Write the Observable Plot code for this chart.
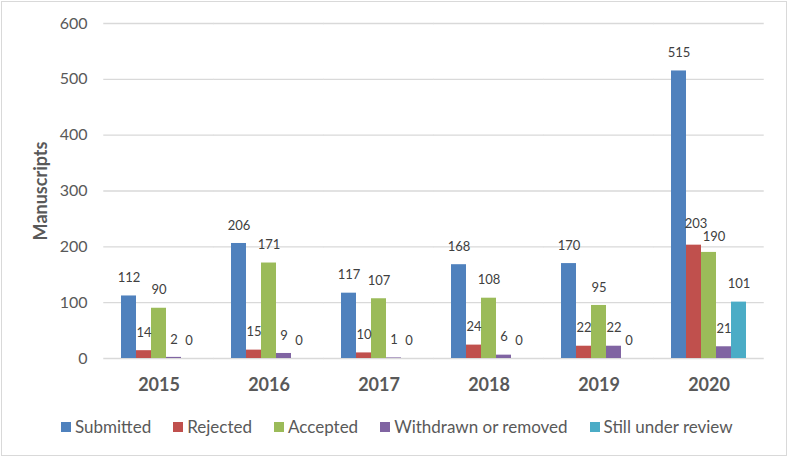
<!DOCTYPE html>
<html>
<head>
<meta charset="utf-8">
<script src="https://cdn.jsdelivr.net/npm/d3@7"></script>
<script src="https://cdn.jsdelivr.net/npm/@observablehq/plot@0.6"></script>
<style>
  html, body { margin: 0; padding: 0; background: #fff; }
  body { width: 788px; height: 457px; position: relative; overflow: hidden; font-family: Lato, "Open Sans", sans-serif; }
  #frame { position: absolute; left: 1px; top: 1px; width: 784px; height: 453px; border: 1px solid #d9d9d9; }
  #chart { position: absolute; left: 0; top: 0; }
  #chart svg { font-family: Lato, "Open Sans", sans-serif; }
  g[aria-label="y-axis tick label"] text { font-size: 16px; fill: #595959; }
  g[aria-label="fx-axis tick label"] text { font-size: 18px; font-weight: bold; fill: #595959; }
  g[aria-label="y-axis label"] text { font-size: 18px; font-weight: bold; fill: #595959; }
  #legend { position: absolute; left: 61px; top: 416px; display: flex; align-items: center; gap: 22px; font-size: 17px; color: #595959; white-space: nowrap; }
  .item { display: flex; align-items: center; gap: 4px; }
  .sw { width: 10px; height: 10px; display: inline-block; }
</style>
</head>
<body>
<div id="frame"></div>
<div id="chart"></div>
<div id="legend"></div>
<script>
const years = ["2015", "2016", "2017", "2018", "2019", "2020"];
const series = ["Submitted", "Rejected", "Accepted", "Withdrawn or removed", "Still under review"];
const colors = ["#4f81bd", "#c0504d", "#9bbb59", "#8064a2", "#4bacc6"];
const submitted = [112, 206, 117, 168, 170, 515];
const rejected = [14, 15, 10, 24, 22, 203];
const accepted = [90, 171, 107, 108, 95, 190];
const withdrawn = [2, 9, 1, 6, 22, 21];
const underReview = [0, 0, 0, 0, 0, 101];
const yTicks = [0, 100, 200, 300, 400, 500, 600];

const seriesValues = [submitted, rejected, accepted, withdrawn, underReview];
const data = years.flatMap((year, i) =>
  series.map((s, j) => ({year, series: s, value: seriesValues[j][i]}))
);

const width = 788, marginLeft = 102, marginRight = 23;
const pInner = 0.303, pOuter = pInner / 2;
const step = (width - marginLeft - marginRight) / (years.length - pInner + 2 * pOuter);
const halfGap = step * pInner / 2;

// labels that Excel nudged apart to avoid overlap (2020 Rejected / Accepted)
const nudgedUp = (d) => d.year === "2020" && d.series === "Rejected";
const nudgedRight = (d) => d.year === "2020" && d.series === "Accepted";
const plain = (d) => !nudgedUp(d) && !nudgedRight(d);

const chart = Plot.plot({
  width,
  height: 400,
  marginLeft,
  marginRight,
  marginTop: 23,
  marginBottom: 42,
  fx: {domain: years, paddingInner: pInner, paddingOuter: pOuter, axis: "bottom", label: null, tickSize: 0, tickPadding: 20},
  x: {domain: series, axis: null, padding: 0},
  y: {domain: [0, 600], ticks: yTicks, tickSize: 0, tickPadding: 33, label: "Manuscripts", labelAnchor: "center", labelArrow: "none", labelOffset: 86},
  color: {domain: series, range: colors},
  marks: [
    Plot.ruleY(yTicks, {stroke: "#d9d9d9", strokeWidth: 1.3, insetLeft: -halfGap, insetRight: -halfGap}),
    Plot.barY(data, {fx: "year", x: "series", y: "value", fill: "series"}),
    Plot.text(data, {filter: plain, fx: "year", x: "series", y: "value", text: "value", dy: -18, fontSize: 13, fill: "#404040"}),
    Plot.text(data, {filter: nudgedUp, fx: "year", x: "series", y: "value", text: "value", dy: -21, dx: 2, fontSize: 13, fill: "#404040"}),
    Plot.text(data, {filter: nudgedRight, fx: "year", x: "series", y: "value", text: "value", dy: -16, dx: 5, fontSize: 13, fill: "#404040"})
  ]
});
document.getElementById("chart").appendChild(chart);

const legend = document.getElementById("legend");
series.forEach((s, i) => {
  const item = document.createElement("div");
  item.className = "item";
  const sw = document.createElement("span");
  sw.className = "sw";
  sw.style.background = colors[i];
  const t = document.createElement("span");
  t.textContent = s;
  item.appendChild(sw);
  item.appendChild(t);
  legend.appendChild(item);
});
</script>
</body>
</html>
